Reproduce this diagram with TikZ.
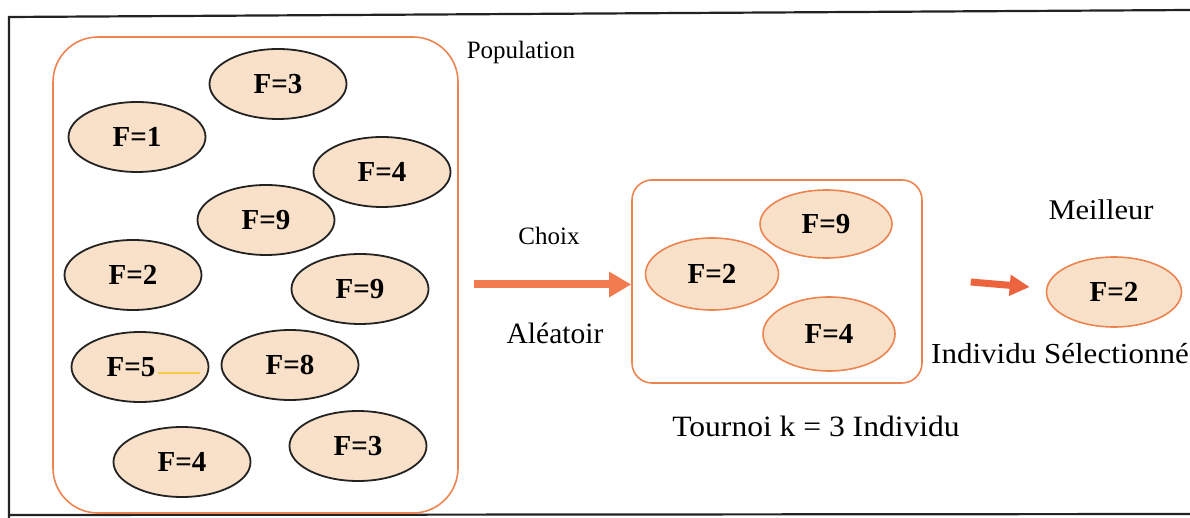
\documentclass[tikz,border=0pt]{standalone}
\usepackage{fontspec}
\setmainfont{Liberation Serif}
\newfontfamily\widefont[FakeStretch=1.07]{Liberation Serif}
\usetikzlibrary{shapes.geometric,arrows.meta}
\definecolor{peach}{RGB}{248,224,201}
\definecolor{boxorange}{RGB}{236,132,80}
\definecolor{arroworange}{RGB}{241,122,78}
\definecolor{arrowred}{RGB}{236,100,62}
\definecolor{ink}{RGB}{35,35,35}
\definecolor{streak}{RGB}{250,200,70}
\begin{document}
\begin{tikzpicture}[x=1pt,y=-1pt,
  indiv/.style={ellipse, draw=ink, line width=1.8pt, fill=peach,
    minimum width=137pt, minimum height=70pt, inner sep=0pt,
    font=\fontsize{29}{29}\selectfont\bfseries},
  chosen/.style={indiv, draw=boxorange, line width=1.6pt},
  group/.style={rectangle, draw=boxorange, line width=1.6pt, inner sep=0pt},
  lbl/.style={inner sep=0pt, font=\fontsize{27}{27}\selectfont},
  bigarrow/.style={draw=arroworange, line width=8pt,
    -{Triangle[length=22pt,width=24pt]}},
  smallarrow/.style={draw=arrowred, line width=7pt,
    -{Triangle[length=20pt,width=20pt]}}
]
\useasboundingbox (0,0) rectangle (1190,518);

% outer frame
\draw[ink, line width=2.2pt] (1192,10) -- (9,17) -- (9,520);
\draw[ink, line width=2.2pt] (9,515) -- (1192,514);

% population
\node[group, rounded corners=45pt, minimum width=405pt, minimum height=476pt] (pop) at (255.5,275) {};
\node[lbl, font=\fontsize{25}{25}\selectfont] (poplabel) at (521,52) {Population};

\node[indiv] (p3a) at (278,84)  {F=3};
\node[indiv] (p1)  at (137,137) {F=1};
\node[indiv] (p4a) at (382,172) {F=4};
\node[indiv] (p9a) at (266,220) {F=9};
\node[indiv] (p2)  at (133,275) {F=2};
\node[indiv] (p9b) at (360,289) {F=9};
\node[indiv] (p5)  at (140,367) {};
\node[inner sep=0pt, font=\fontsize{29}{29}\selectfont\bfseries] (p5text) at ([xshift=-9pt]p5.center) {F=5};
\node[indiv] (p8)  at (290,365) {F=8};
\node[indiv] (p4b) at (182,462) {F=4};
\node[indiv] (p3b) at (358,446) {F=3};
\draw[streak, line width=1.5pt] ([xshift=2pt,yshift=-6pt]p5text.east) -- ([xshift=60pt,yshift=-6pt]p5.center);

% tournament
\node[group, rounded corners=20pt, minimum width=290pt, minimum height=203pt] (tour) at (777,281.5) {};
\node[chosen, minimum width=132pt, minimum height=68pt] (t9) at (826,224) {F=9};
\node[chosen, minimum width=133pt, minimum height=72pt] (t2) at (712,274) {F=2};
\node[chosen, minimum width=132pt, minimum height=74pt] (t4) at (829,334) {F=4};
\node[lbl, font=\widefont\fontsize{29.5}{29.5}\selectfont] (tourlabel) at (816,426) {Tournoi k = 3 Individu};

% random choice
\draw[bigarrow] ([xshift=15pt,yshift=-3pt]pop.east |- tour.west) -- ([yshift=-3pt]tour.west);
\node[lbl, font=\fontsize{25}{25}\selectfont] (choix) at (549,236) {Choix};
\node[lbl, font=\fontsize{29.5}{29.5}\selectfont] (alea) at (555,333) {Aléatoir};

% winner
\node[chosen, minimum width=135pt, minimum height=70pt] (best) at (1114,292) {F=2};
\draw[smallarrow] ([xshift=-75pt,yshift=10pt]best.west) -- ([xshift=-16pt,yshift=5pt]best.west);
\node[lbl, font=\widefont\fontsize{28.5}{28.5}\selectfont] (meilleur) at (1101,210) {Meilleur};
\node[lbl, font=\widefont\fontsize{29}{29}\selectfont] (sel) at (1060,354) {Individu Sélectionné};
\end{tikzpicture}
\end{document}
